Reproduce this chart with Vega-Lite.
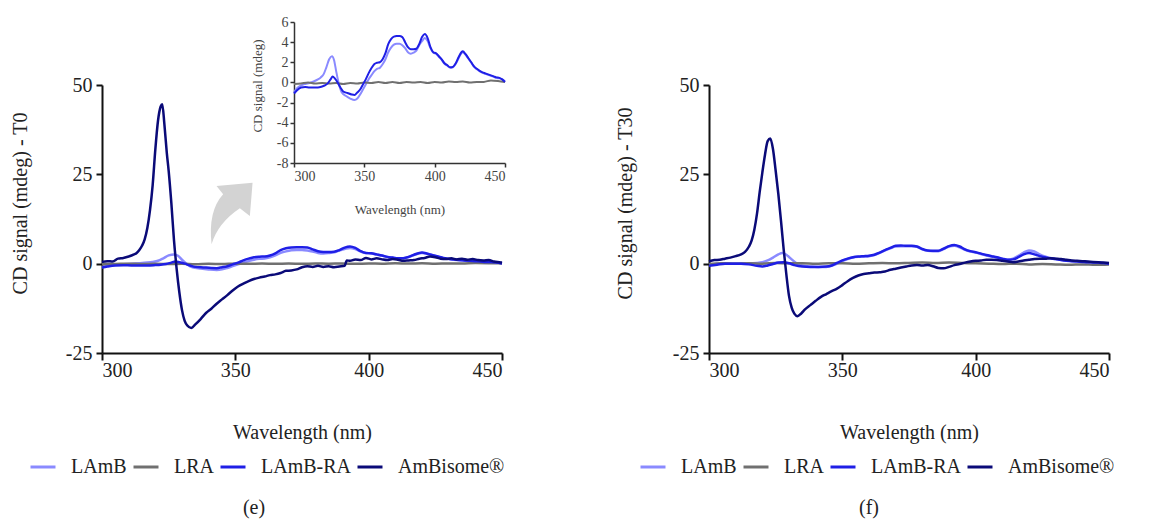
{
"$schema": "https://vega.github.io/schema/vega-lite/v6.json",
"autosize": {"type": "pad"},
"padding": {"left": 9, "top": 15, "right": 5, "bottom": 5},
"background": "white",
"config": {
  "font": "Liberation Serif, Times New Roman, serif",
  "view": {"stroke": null},
  "axis": {"grid": false, "domainColor": "#111", "tickColor": "#111", "labelColor": "#222", "titleColor": "#222", "labelFont": "Liberation Serif, Times New Roman, serif", "titleFont": "Liberation Serif, Times New Roman, serif", "titleFontWeight": "normal", "domainWidth": 2, "tickWidth": 2, "labelFontSize": 20, "titleFontSize": 20, "labelExpr": "replace(datum.label, '−', '-')"},
  "legend": {"labelFont": "Liberation Serif, Times New Roman, serif", "labelFontSize": 20, "labelColor": "#222", "symbolType": "stroke", "symbolSize": 625, "symbolStrokeWidth": 3, "labelOffset": 14, "columnPadding": 0},
  "title": {"font": "Liberation Serif, Times New Roman, serif", "fontWeight": "normal", "fontSize": 20, "color": "#222"}
},
"datasets": {
"e": [
{"series":"LAmB","nm":300,"cd":-1.0},{"series":"LAmB","nm":302,"cd":-0.6},{"series":"LAmB","nm":305,"cd":-0.3},{"series":"LAmB","nm":308,"cd":-0.15},{"series":"LAmB","nm":311,"cd":-0.05},{"series":"LAmB","nm":314,"cd":0.1},{"series":"LAmB","nm":317,"cd":0.3},{"series":"LAmB","nm":319,"cd":0.5},{"series":"LAmB","nm":321,"cd":0.8},{"series":"LAmB","nm":323,"cd":1.5},{"series":"LAmB","nm":325,"cd":2.3},{"series":"LAmB","nm":327,"cd":2.6},{"series":"LAmB","nm":328.5,"cd":2.2},{"series":"LAmB","nm":330,"cd":1.1},{"series":"LAmB","nm":332,"cd":-0.2},{"series":"LAmB","nm":334,"cd":-1.0},{"series":"LAmB","nm":337,"cd":-1.35},{"series":"LAmB","nm":340,"cd":-1.6},{"series":"LAmB","nm":343,"cd":-1.75},{"series":"LAmB","nm":345,"cd":-1.6},{"series":"LAmB","nm":347,"cd":-1.2},{"series":"LAmB","nm":349,"cd":-0.7},{"series":"LAmB","nm":351,"cd":-0.2},{"series":"LAmB","nm":353,"cd":0.3},{"series":"LAmB","nm":355,"cd":0.7},{"series":"LAmB","nm":357,"cd":1.1},{"series":"LAmB","nm":359,"cd":1.35},{"series":"LAmB","nm":361,"cd":1.45},{"series":"LAmB","nm":363,"cd":1.8},{"series":"LAmB","nm":365,"cd":2.3},{"series":"LAmB","nm":367,"cd":3.0},{"series":"LAmB","nm":369,"cd":3.45},{"series":"LAmB","nm":371,"cd":3.75},{"series":"LAmB","nm":373,"cd":3.85},{"series":"LAmB","nm":375,"cd":3.85},{"series":"LAmB","nm":377,"cd":3.7},{"series":"LAmB","nm":379,"cd":3.4},{"series":"LAmB","nm":381,"cd":3.0},{"series":"LAmB","nm":383,"cd":2.85},{"series":"LAmB","nm":385,"cd":2.95},{"series":"LAmB","nm":387,"cd":3.15},{"series":"LAmB","nm":389,"cd":3.7},{"series":"LAmB","nm":391,"cd":4.1},{"series":"LAmB","nm":393,"cd":4.4},{"series":"LAmB","nm":395,"cd":4.1},{"series":"LAmB","nm":397,"cd":3.4},{"series":"LAmB","nm":399,"cd":2.95},{"series":"LAmB","nm":401,"cd":2.85},{"series":"LAmB","nm":403,"cd":2.55},{"series":"LAmB","nm":405,"cd":2.25},{"series":"LAmB","nm":407,"cd":1.85},{"series":"LAmB","nm":409,"cd":1.65},{"series":"LAmB","nm":411,"cd":1.45},{"series":"LAmB","nm":413,"cd":1.5},{"series":"LAmB","nm":415,"cd":1.85},{"series":"LAmB","nm":417,"cd":2.4},{"series":"LAmB","nm":419,"cd":2.9},{"series":"LAmB","nm":420,"cd":3.0},{"series":"LAmB","nm":422,"cd":2.75},{"series":"LAmB","nm":424,"cd":2.35},{"series":"LAmB","nm":426,"cd":1.95},{"series":"LAmB","nm":428,"cd":1.55},{"series":"LAmB","nm":430,"cd":1.3},{"series":"LAmB","nm":432,"cd":1.1},{"series":"LAmB","nm":434,"cd":0.95},{"series":"LAmB","nm":436,"cd":0.85},{"series":"LAmB","nm":438,"cd":0.75},{"series":"LAmB","nm":440,"cd":0.65},{"series":"LAmB","nm":442,"cd":0.55},{"series":"LAmB","nm":444,"cd":0.45},{"series":"LAmB","nm":446,"cd":0.4},{"series":"LAmB","nm":448,"cd":0.3},{"series":"LAmB","nm":450,"cd":0.1},
{"series":"LRA","nm":300,"cd":-0.15},{"series":"LRA","nm":305,"cd":-0.1},{"series":"LRA","nm":310,"cd":0.0},{"series":"LRA","nm":315,"cd":-0.1},{"series":"LRA","nm":320,"cd":-0.05},{"series":"LRA","nm":325,"cd":-0.1},{"series":"LRA","nm":330,"cd":-0.05},{"series":"LRA","nm":335,"cd":-0.15},{"series":"LRA","nm":340,"cd":-0.05},{"series":"LRA","nm":345,"cd":-0.1},{"series":"LRA","nm":350,"cd":0.0},{"series":"LRA","nm":355,"cd":-0.05},{"series":"LRA","nm":360,"cd":0.05},{"series":"LRA","nm":365,"cd":-0.05},{"series":"LRA","nm":370,"cd":0.05},{"series":"LRA","nm":375,"cd":-0.05},{"series":"LRA","nm":380,"cd":0.05},{"series":"LRA","nm":385,"cd":0.0},{"series":"LRA","nm":390,"cd":0.05},{"series":"LRA","nm":395,"cd":-0.05},{"series":"LRA","nm":400,"cd":0.05},{"series":"LRA","nm":405,"cd":0.0},{"series":"LRA","nm":410,"cd":0.1},{"series":"LRA","nm":415,"cd":0.05},{"series":"LRA","nm":420,"cd":0.1},{"series":"LRA","nm":425,"cd":0.0},{"series":"LRA","nm":430,"cd":0.05},{"series":"LRA","nm":435,"cd":0.05},{"series":"LRA","nm":440,"cd":0.2},{"series":"LRA","nm":445,"cd":0.15},{"series":"LRA","nm":450,"cd":0.05},
{"series":"LAmB-RA","nm":300,"cd":-1.1},{"series":"LAmB-RA","nm":302,"cd":-0.8},{"series":"LAmB-RA","nm":305,"cd":-0.5},{"series":"LAmB-RA","nm":308,"cd":-0.45},{"series":"LAmB-RA","nm":311,"cd":-0.5},{"series":"LAmB-RA","nm":314,"cd":-0.5},{"series":"LAmB-RA","nm":317,"cd":-0.5},{"series":"LAmB-RA","nm":320,"cd":-0.4},{"series":"LAmB-RA","nm":322,"cd":-0.3},{"series":"LAmB-RA","nm":324,"cd":-0.1},{"series":"LAmB-RA","nm":326,"cd":0.3},{"series":"LAmB-RA","nm":327.5,"cd":0.6},{"series":"LAmB-RA","nm":329,"cd":0.4},{"series":"LAmB-RA","nm":331,"cd":0.0},{"series":"LAmB-RA","nm":333,"cd":-0.5},{"series":"LAmB-RA","nm":335,"cd":-0.9},{"series":"LAmB-RA","nm":338,"cd":-1.05},{"series":"LAmB-RA","nm":341,"cd":-1.2},{"series":"LAmB-RA","nm":343,"cd":-1.25},{"series":"LAmB-RA","nm":345,"cd":-1.0},{"series":"LAmB-RA","nm":347,"cd":-0.7},{"series":"LAmB-RA","nm":349,"cd":-0.2},{"series":"LAmB-RA","nm":351,"cd":0.3},{"series":"LAmB-RA","nm":353,"cd":0.9},{"series":"LAmB-RA","nm":355,"cd":1.4},{"series":"LAmB-RA","nm":357,"cd":1.8},{"series":"LAmB-RA","nm":359,"cd":1.95},{"series":"LAmB-RA","nm":361,"cd":2.0},{"series":"LAmB-RA","nm":363,"cd":2.3},{"series":"LAmB-RA","nm":365,"cd":2.9},{"series":"LAmB-RA","nm":367,"cd":3.8},{"series":"LAmB-RA","nm":369,"cd":4.3},{"series":"LAmB-RA","nm":371,"cd":4.55},{"series":"LAmB-RA","nm":373,"cd":4.6},{"series":"LAmB-RA","nm":375,"cd":4.6},{"series":"LAmB-RA","nm":377,"cd":4.5},{"series":"LAmB-RA","nm":379,"cd":4.0},{"series":"LAmB-RA","nm":381,"cd":3.5},{"series":"LAmB-RA","nm":383,"cd":3.3},{"series":"LAmB-RA","nm":385,"cd":3.3},{"series":"LAmB-RA","nm":387,"cd":3.35},{"series":"LAmB-RA","nm":389,"cd":3.8},{"series":"LAmB-RA","nm":391,"cd":4.5},{"series":"LAmB-RA","nm":393,"cd":4.8},{"series":"LAmB-RA","nm":395,"cd":4.4},{"series":"LAmB-RA","nm":397,"cd":3.5},{"series":"LAmB-RA","nm":399,"cd":3.0},{"series":"LAmB-RA","nm":401,"cd":2.9},{"series":"LAmB-RA","nm":403,"cd":2.6},{"series":"LAmB-RA","nm":405,"cd":2.3},{"series":"LAmB-RA","nm":407,"cd":1.9},{"series":"LAmB-RA","nm":409,"cd":1.7},{"series":"LAmB-RA","nm":411,"cd":1.5},{"series":"LAmB-RA","nm":413,"cd":1.55},{"series":"LAmB-RA","nm":415,"cd":1.9},{"series":"LAmB-RA","nm":417,"cd":2.5},{"series":"LAmB-RA","nm":419,"cd":3.0},{"series":"LAmB-RA","nm":420,"cd":3.1},{"series":"LAmB-RA","nm":422,"cd":2.8},{"series":"LAmB-RA","nm":424,"cd":2.4},{"series":"LAmB-RA","nm":426,"cd":2.0},{"series":"LAmB-RA","nm":428,"cd":1.6},{"series":"LAmB-RA","nm":430,"cd":1.35},{"series":"LAmB-RA","nm":432,"cd":1.15},{"series":"LAmB-RA","nm":434,"cd":1.0},{"series":"LAmB-RA","nm":436,"cd":0.9},{"series":"LAmB-RA","nm":438,"cd":0.8},{"series":"LAmB-RA","nm":440,"cd":0.7},{"series":"LAmB-RA","nm":442,"cd":0.6},{"series":"LAmB-RA","nm":444,"cd":0.5},{"series":"LAmB-RA","nm":446,"cd":0.45},{"series":"LAmB-RA","nm":448,"cd":0.3},{"series":"LAmB-RA","nm":450,"cd":0.05},
{"series":"AmBisome®","nm":300,"cd":0.5},{"series":"AmBisome®","nm":302,"cd":0.7},{"series":"AmBisome®","nm":304,"cd":0.6},{"series":"AmBisome®","nm":306,"cd":1.4},{"series":"AmBisome®","nm":308,"cd":1.6},{"series":"AmBisome®","nm":310,"cd":2.0},{"series":"AmBisome®","nm":312,"cd":2.6},{"series":"AmBisome®","nm":313,"cd":3.0},{"series":"AmBisome®","nm":314,"cd":3.8},{"series":"AmBisome®","nm":315,"cd":5.0},{"series":"AmBisome®","nm":316,"cd":6.8},{"series":"AmBisome®","nm":317,"cd":10},{"series":"AmBisome®","nm":318,"cd":15},{"series":"AmBisome®","nm":319,"cd":22},{"series":"AmBisome®","nm":320,"cd":32},{"series":"AmBisome®","nm":321,"cd":40},{"series":"AmBisome®","nm":322,"cd":44},{"series":"AmBisome®","nm":322.6,"cd":44.6},{"series":"AmBisome®","nm":323.4,"cd":39},{"series":"AmBisome®","nm":324.3,"cd":31},{"series":"AmBisome®","nm":325,"cd":26},{"series":"AmBisome®","nm":326,"cd":17},{"series":"AmBisome®","nm":327,"cd":6.5},{"series":"AmBisome®","nm":328,"cd":-1.5},{"series":"AmBisome®","nm":329,"cd":-8},{"series":"AmBisome®","nm":330,"cd":-13},{"series":"AmBisome®","nm":331,"cd":-16},{"series":"AmBisome®","nm":332,"cd":-17.3},{"series":"AmBisome®","nm":333.5,"cd":-18},{"series":"AmBisome®","nm":335,"cd":-17},{"series":"AmBisome®","nm":337,"cd":-15.5},{"series":"AmBisome®","nm":339,"cd":-13.8},{"series":"AmBisome®","nm":341,"cd":-12.6},{"series":"AmBisome®","nm":343,"cd":-11.2},{"series":"AmBisome®","nm":345,"cd":-10},{"series":"AmBisome®","nm":347,"cd":-8.8},{"series":"AmBisome®","nm":349,"cd":-7.5},{"series":"AmBisome®","nm":351,"cd":-6.4},{"series":"AmBisome®","nm":353,"cd":-5.6},{"series":"AmBisome®","nm":355,"cd":-4.9},{"series":"AmBisome®","nm":357,"cd":-4.3},{"series":"AmBisome®","nm":359,"cd":-3.9},{"series":"AmBisome®","nm":361,"cd":-3.6},{"series":"AmBisome®","nm":363,"cd":-3.2},{"series":"AmBisome®","nm":365,"cd":-3.0},{"series":"AmBisome®","nm":367,"cd":-2.6},{"series":"AmBisome®","nm":369,"cd":-2.0},{"series":"AmBisome®","nm":371,"cd":-1.9},{"series":"AmBisome®","nm":373,"cd":-1.6},{"series":"AmBisome®","nm":375,"cd":-1.0},{"series":"AmBisome®","nm":377,"cd":-0.7},{"series":"AmBisome®","nm":379,"cd":-0.9},{"series":"AmBisome®","nm":381,"cd":-0.6},{"series":"AmBisome®","nm":383,"cd":-0.9},{"series":"AmBisome®","nm":385,"cd":-0.7},{"series":"AmBisome®","nm":387,"cd":-1.0},{"series":"AmBisome®","nm":389,"cd":-0.8},{"series":"AmBisome®","nm":391,"cd":-0.6},{"series":"AmBisome®","nm":391.8,"cd":0.9},{"series":"AmBisome®","nm":393,"cd":0.8},{"series":"AmBisome®","nm":395,"cd":1.2},{"series":"AmBisome®","nm":397,"cd":1.0},{"series":"AmBisome®","nm":399,"cd":1.6},{"series":"AmBisome®","nm":401,"cd":1.2},{"series":"AmBisome®","nm":403,"cd":1.5},{"series":"AmBisome®","nm":405,"cd":1.2},{"series":"AmBisome®","nm":407,"cd":1.0},{"series":"AmBisome®","nm":409,"cd":1.3},{"series":"AmBisome®","nm":411,"cd":1.1},{"series":"AmBisome®","nm":413,"cd":0.8},{"series":"AmBisome®","nm":415,"cd":0.9},{"series":"AmBisome®","nm":417,"cd":1.0},{"series":"AmBisome®","nm":419,"cd":1.4},{"series":"AmBisome®","nm":421,"cd":1.6},{"series":"AmBisome®","nm":423,"cd":2.0},{"series":"AmBisome®","nm":425,"cd":1.8},{"series":"AmBisome®","nm":427,"cd":1.4},{"series":"AmBisome®","nm":429,"cd":1.3},{"series":"AmBisome®","nm":431,"cd":1.5},{"series":"AmBisome®","nm":433,"cd":1.2},{"series":"AmBisome®","nm":435,"cd":1.4},{"series":"AmBisome®","nm":437,"cd":1.1},{"series":"AmBisome®","nm":439,"cd":1.3},{"series":"AmBisome®","nm":441,"cd":1.0},{"series":"AmBisome®","nm":443,"cd":0.9},{"series":"AmBisome®","nm":445,"cd":1.0},{"series":"AmBisome®","nm":447,"cd":0.6},{"series":"AmBisome®","nm":449,"cd":0.4},{"series":"AmBisome®","nm":450,"cd":0.3}
],
"f": [
{"series":"LAmB","nm":300,"cd":-0.3},{"series":"LAmB","nm":303,"cd":0.0},{"series":"LAmB","nm":306,"cd":0.1},{"series":"LAmB","nm":309,"cd":0.1},{"series":"LAmB","nm":312,"cd":0.1},{"series":"LAmB","nm":315,"cd":0.1},{"series":"LAmB","nm":318,"cd":0.2},{"series":"LAmB","nm":320,"cd":0.4},{"series":"LAmB","nm":322,"cd":0.9},{"series":"LAmB","nm":324,"cd":1.7},{"series":"LAmB","nm":326,"cd":2.6},{"series":"LAmB","nm":327.5,"cd":3.0},{"series":"LAmB","nm":329,"cd":2.5},{"series":"LAmB","nm":331,"cd":1.2},{"series":"LAmB","nm":333,"cd":0.0},{"series":"LAmB","nm":335,"cd":-0.5},{"series":"LAmB","nm":338,"cd":-0.8},{"series":"LAmB","nm":341,"cd":-0.9},{"series":"LAmB","nm":344,"cd":-0.9},{"series":"LAmB","nm":346,"cd":-0.6},{"series":"LAmB","nm":348,"cd":0.0},{"series":"LAmB","nm":350,"cd":0.7},{"series":"LAmB","nm":352,"cd":1.3},{"series":"LAmB","nm":354,"cd":1.7},{"series":"LAmB","nm":356,"cd":1.9},{"series":"LAmB","nm":358,"cd":2.0},{"series":"LAmB","nm":360,"cd":2.1},{"series":"LAmB","nm":362,"cd":2.4},{"series":"LAmB","nm":364,"cd":3.0},{"series":"LAmB","nm":366,"cd":3.7},{"series":"LAmB","nm":368,"cd":4.3},{"series":"LAmB","nm":370,"cd":4.8},{"series":"LAmB","nm":372,"cd":4.9},{"series":"LAmB","nm":374,"cd":4.9},{"series":"LAmB","nm":376,"cd":4.9},{"series":"LAmB","nm":378,"cd":4.7},{"series":"LAmB","nm":380,"cd":4.0},{"series":"LAmB","nm":382,"cd":3.6},{"series":"LAmB","nm":384,"cd":3.5},{"series":"LAmB","nm":386,"cd":3.5},{"series":"LAmB","nm":388,"cd":4.1},{"series":"LAmB","nm":390,"cd":4.8},{"series":"LAmB","nm":392,"cd":5.0},{"series":"LAmB","nm":394,"cd":4.6},{"series":"LAmB","nm":396,"cd":3.9},{"series":"LAmB","nm":398,"cd":3.4},{"series":"LAmB","nm":400,"cd":3.1},{"series":"LAmB","nm":402,"cd":2.7},{"series":"LAmB","nm":404,"cd":2.3},{"series":"LAmB","nm":406,"cd":2.0},{"series":"LAmB","nm":408,"cd":1.7},{"series":"LAmB","nm":410,"cd":1.3},{"series":"LAmB","nm":412,"cd":1.1},{"series":"LAmB","nm":414,"cd":1.4},{"series":"LAmB","nm":416,"cd":2.2},{"series":"LAmB","nm":418,"cd":3.1},{"series":"LAmB","nm":420,"cd":3.7},{"series":"LAmB","nm":422,"cd":3.4},{"series":"LAmB","nm":424,"cd":2.6},{"series":"LAmB","nm":426,"cd":2.0},{"series":"LAmB","nm":428,"cd":1.6},{"series":"LAmB","nm":430,"cd":1.3},{"series":"LAmB","nm":432,"cd":1.1},{"series":"LAmB","nm":434,"cd":0.9},{"series":"LAmB","nm":436,"cd":0.75},{"series":"LAmB","nm":438,"cd":0.65},{"series":"LAmB","nm":440,"cd":0.55},{"series":"LAmB","nm":442,"cd":0.45},{"series":"LAmB","nm":444,"cd":0.35},{"series":"LAmB","nm":446,"cd":0.3},{"series":"LAmB","nm":448,"cd":0.15},{"series":"LAmB","nm":450,"cd":0.0},
{"series":"LRA","nm":300,"cd":-0.1},{"series":"LRA","nm":305,"cd":0.1},{"series":"LRA","nm":310,"cd":0.0},{"series":"LRA","nm":315,"cd":0.1},{"series":"LRA","nm":320,"cd":0.0},{"series":"LRA","nm":325,"cd":0.2},{"series":"LRA","nm":330,"cd":0.1},{"series":"LRA","nm":335,"cd":0.1},{"series":"LRA","nm":340,"cd":0.0},{"series":"LRA","nm":345,"cd":0.1},{"series":"LRA","nm":350,"cd":0.1},{"series":"LRA","nm":355,"cd":0.0},{"series":"LRA","nm":360,"cd":0.1},{"series":"LRA","nm":365,"cd":0.2},{"series":"LRA","nm":370,"cd":0.1},{"series":"LRA","nm":375,"cd":0.2},{"series":"LRA","nm":380,"cd":0.3},{"series":"LRA","nm":385,"cd":0.2},{"series":"LRA","nm":390,"cd":0.3},{"series":"LRA","nm":395,"cd":0.2},{"series":"LRA","nm":400,"cd":0.1},{"series":"LRA","nm":405,"cd":0.0},{"series":"LRA","nm":410,"cd":-0.1},{"series":"LRA","nm":415,"cd":0.0},{"series":"LRA","nm":420,"cd":-0.2},{"series":"LRA","nm":425,"cd":-0.1},{"series":"LRA","nm":430,"cd":-0.2},{"series":"LRA","nm":435,"cd":-0.3},{"series":"LRA","nm":440,"cd":-0.2},{"series":"LRA","nm":445,"cd":-0.3},{"series":"LRA","nm":450,"cd":-0.2},
{"series":"LAmB-RA","nm":300,"cd":-0.6},{"series":"LAmB-RA","nm":303,"cd":-0.3},{"series":"LAmB-RA","nm":306,"cd":0.0},{"series":"LAmB-RA","nm":309,"cd":0.0},{"series":"LAmB-RA","nm":312,"cd":0.0},{"series":"LAmB-RA","nm":315,"cd":-0.2},{"series":"LAmB-RA","nm":318,"cd":-0.6},{"series":"LAmB-RA","nm":320,"cd":-0.8},{"series":"LAmB-RA","nm":322,"cd":-0.5},{"series":"LAmB-RA","nm":324,"cd":-0.1},{"series":"LAmB-RA","nm":326,"cd":0.3},{"series":"LAmB-RA","nm":328,"cd":0.4},{"series":"LAmB-RA","nm":330,"cd":0.1},{"series":"LAmB-RA","nm":332,"cd":-0.4},{"series":"LAmB-RA","nm":335,"cd":-0.8},{"series":"LAmB-RA","nm":338,"cd":-0.9},{"series":"LAmB-RA","nm":341,"cd":-0.9},{"series":"LAmB-RA","nm":344,"cd":-0.8},{"series":"LAmB-RA","nm":346,"cd":-0.5},{"series":"LAmB-RA","nm":348,"cd":0.2},{"series":"LAmB-RA","nm":350,"cd":0.9},{"series":"LAmB-RA","nm":352,"cd":1.4},{"series":"LAmB-RA","nm":354,"cd":1.8},{"series":"LAmB-RA","nm":356,"cd":2.0},{"series":"LAmB-RA","nm":358,"cd":2.1},{"series":"LAmB-RA","nm":360,"cd":2.2},{"series":"LAmB-RA","nm":362,"cd":2.5},{"series":"LAmB-RA","nm":364,"cd":3.1},{"series":"LAmB-RA","nm":366,"cd":3.8},{"series":"LAmB-RA","nm":368,"cd":4.4},{"series":"LAmB-RA","nm":370,"cd":5.0},{"series":"LAmB-RA","nm":372,"cd":5.1},{"series":"LAmB-RA","nm":374,"cd":5.0},{"series":"LAmB-RA","nm":376,"cd":5.0},{"series":"LAmB-RA","nm":378,"cd":4.8},{"series":"LAmB-RA","nm":380,"cd":4.1},{"series":"LAmB-RA","nm":382,"cd":3.7},{"series":"LAmB-RA","nm":384,"cd":3.6},{"series":"LAmB-RA","nm":386,"cd":3.6},{"series":"LAmB-RA","nm":388,"cd":4.2},{"series":"LAmB-RA","nm":390,"cd":4.9},{"series":"LAmB-RA","nm":392,"cd":5.2},{"series":"LAmB-RA","nm":394,"cd":4.8},{"series":"LAmB-RA","nm":396,"cd":4.0},{"series":"LAmB-RA","nm":398,"cd":3.5},{"series":"LAmB-RA","nm":400,"cd":3.2},{"series":"LAmB-RA","nm":402,"cd":2.8},{"series":"LAmB-RA","nm":404,"cd":2.4},{"series":"LAmB-RA","nm":406,"cd":2.1},{"series":"LAmB-RA","nm":408,"cd":1.8},{"series":"LAmB-RA","nm":410,"cd":1.4},{"series":"LAmB-RA","nm":412,"cd":1.1},{"series":"LAmB-RA","nm":414,"cd":1.2},{"series":"LAmB-RA","nm":416,"cd":1.8},{"series":"LAmB-RA","nm":418,"cd":2.6},{"series":"LAmB-RA","nm":420,"cd":3.0},{"series":"LAmB-RA","nm":422,"cd":2.6},{"series":"LAmB-RA","nm":424,"cd":2.1},{"series":"LAmB-RA","nm":426,"cd":1.8},{"series":"LAmB-RA","nm":428,"cd":1.5},{"series":"LAmB-RA","nm":430,"cd":1.3},{"series":"LAmB-RA","nm":432,"cd":1.0},{"series":"LAmB-RA","nm":434,"cd":0.8},{"series":"LAmB-RA","nm":436,"cd":0.7},{"series":"LAmB-RA","nm":438,"cd":0.6},{"series":"LAmB-RA","nm":440,"cd":0.5},{"series":"LAmB-RA","nm":442,"cd":0.4},{"series":"LAmB-RA","nm":444,"cd":0.35},{"series":"LAmB-RA","nm":446,"cd":0.3},{"series":"LAmB-RA","nm":448,"cd":0.15},{"series":"LAmB-RA","nm":450,"cd":0.0},
{"series":"AmBisome®","nm":300,"cd":0.7},{"series":"AmBisome®","nm":302,"cd":1.0},{"series":"AmBisome®","nm":304,"cd":1.1},{"series":"AmBisome®","nm":306,"cd":1.4},{"series":"AmBisome®","nm":308,"cd":1.7},{"series":"AmBisome®","nm":310,"cd":2.1},{"series":"AmBisome®","nm":312,"cd":2.6},{"series":"AmBisome®","nm":313.5,"cd":3.3},{"series":"AmBisome®","nm":315,"cd":4.8},{"series":"AmBisome®","nm":316,"cd":6.5},{"series":"AmBisome®","nm":317,"cd":9.5},{"series":"AmBisome®","nm":318,"cd":14},{"series":"AmBisome®","nm":319,"cd":20},{"series":"AmBisome®","nm":320,"cd":25.5},{"series":"AmBisome®","nm":321,"cd":30.5},{"series":"AmBisome®","nm":322,"cd":34.3},{"series":"AmBisome®","nm":323,"cd":35},{"series":"AmBisome®","nm":324,"cd":32},{"series":"AmBisome®","nm":325,"cd":26},{"series":"AmBisome®","nm":326,"cd":19.5},{"series":"AmBisome®","nm":327,"cd":12},{"series":"AmBisome®","nm":328,"cd":4},{"series":"AmBisome®","nm":329,"cd":-3},{"series":"AmBisome®","nm":330,"cd":-9},{"series":"AmBisome®","nm":331,"cd":-12.3},{"series":"AmBisome®","nm":332,"cd":-14},{"series":"AmBisome®","nm":333.2,"cd":-14.7},{"series":"AmBisome®","nm":334.5,"cd":-14},{"series":"AmBisome®","nm":336,"cd":-12.8},{"series":"AmBisome®","nm":338,"cd":-11.6},{"series":"AmBisome®","nm":340,"cd":-10.4},{"series":"AmBisome®","nm":342,"cd":-9.3},{"series":"AmBisome®","nm":344,"cd":-8.5},{"series":"AmBisome®","nm":346,"cd":-7.7},{"series":"AmBisome®","nm":348,"cd":-7.0},{"series":"AmBisome®","nm":350,"cd":-6.0},{"series":"AmBisome®","nm":352,"cd":-4.9},{"series":"AmBisome®","nm":354,"cd":-4.0},{"series":"AmBisome®","nm":356,"cd":-3.3},{"series":"AmBisome®","nm":358,"cd":-2.9},{"series":"AmBisome®","nm":360,"cd":-2.7},{"series":"AmBisome®","nm":362,"cd":-2.5},{"series":"AmBisome®","nm":364,"cd":-2.4},{"series":"AmBisome®","nm":366,"cd":-2.2},{"series":"AmBisome®","nm":368,"cd":-1.7},{"series":"AmBisome®","nm":370,"cd":-1.4},{"series":"AmBisome®","nm":372,"cd":-1.1},{"series":"AmBisome®","nm":374,"cd":-0.8},{"series":"AmBisome®","nm":376,"cd":-0.5},{"series":"AmBisome®","nm":378,"cd":-0.4},{"series":"AmBisome®","nm":380,"cd":-0.5},{"series":"AmBisome®","nm":382,"cd":-0.4},{"series":"AmBisome®","nm":384,"cd":-0.7},{"series":"AmBisome®","nm":386,"cd":-1.2},{"series":"AmBisome®","nm":388,"cd":-1.3},{"series":"AmBisome®","nm":390,"cd":-0.9},{"series":"AmBisome®","nm":392,"cd":-0.4},{"series":"AmBisome®","nm":394,"cd":-0.1},{"series":"AmBisome®","nm":396,"cd":0.3},{"series":"AmBisome®","nm":398,"cd":0.6},{"series":"AmBisome®","nm":400,"cd":0.8},{"series":"AmBisome®","nm":402,"cd":0.9},{"series":"AmBisome®","nm":404,"cd":1.1},{"series":"AmBisome®","nm":406,"cd":1.1},{"series":"AmBisome®","nm":408,"cd":1.0},{"series":"AmBisome®","nm":410,"cd":0.8},{"series":"AmBisome®","nm":412,"cd":0.6},{"series":"AmBisome®","nm":414,"cd":0.4},{"series":"AmBisome®","nm":416,"cd":0.6},{"series":"AmBisome®","nm":418,"cd":0.9},{"series":"AmBisome®","nm":420,"cd":1.1},{"series":"AmBisome®","nm":422,"cd":1.3},{"series":"AmBisome®","nm":424,"cd":1.4},{"series":"AmBisome®","nm":426,"cd":1.4},{"series":"AmBisome®","nm":428,"cd":1.5},{"series":"AmBisome®","nm":430,"cd":1.4},{"series":"AmBisome®","nm":432,"cd":1.3},{"series":"AmBisome®","nm":434,"cd":1.1},{"series":"AmBisome®","nm":436,"cd":0.9},{"series":"AmBisome®","nm":438,"cd":0.8},{"series":"AmBisome®","nm":440,"cd":0.7},{"series":"AmBisome®","nm":442,"cd":0.6},{"series":"AmBisome®","nm":444,"cd":0.5},{"series":"AmBisome®","nm":446,"cd":0.4},{"series":"AmBisome®","nm":448,"cd":0.3},{"series":"AmBisome®","nm":450,"cd":0.2}
],
"arrow": [{"nm": 348.7, "cd": 14.2}]
},
"hconcat": [
{
  "width": 400, "height": 268,
  "title": {"text": "(e)", "orient": "bottom", "frame": "group", "anchor": "middle", "dx": -48, "offset": 21},
  "layer": [
    {
      "layer": [
        {
          "data": {"name": "e"},
          "mark": {"type": "line", "strokeWidth": 2.5, "interpolate": "monotone"},
          "encoding": {
            "x": {"field": "nm", "type": "quantitative", "scale": {"domain": [300, 450], "nice": false, "zero": false}, "axis": {"values": [300, 350, 400, 450], "title": "Wavelength (nm)", "tickSize": 7, "labelPadding": 0, "titlePadding": 42}},
            "y": {"field": "cd", "type": "quantitative", "scale": {"domain": [-25, 50], "nice": false, "zero": false}, "axis": {"values": [-25, 0, 25, 50], "title": "CD signal (mdeg) - T0", "tickSize": 6, "labelPadding": 4, "titleX": -72, "titleY": 118}},
            "color": {"field": "series", "type": "nominal", "scale": {"domain": ["LAmB", "LRA", "LAmB-RA", "AmBisome®"], "range": ["#8a8aff", "#707070", "#1f1fe6", "#0a0a78"]}, "legend": {"title": null, "orient": "none", "direction": "horizontal", "legendX": -73, "legendY": 368}}
          }
        },
        {
          "data": {"name": "arrow"},
          "mark": {"type": "point", "shape": "M 0.627 -0.918 L -0.464 -0.818 L -0.264 -0.566 Q -0.727 -0.06 -0.615 0.948 Q -0.424 0.303 0.242 -0.142 L 0.545 0.091 Z", "filled": true, "fill": "#d3d3d3", "opacity": 1, "strokeWidth": 0, "size": 4356},
          "encoding": {
            "x": {"field": "nm", "type": "quantitative"},
            "y": {"field": "cd", "type": "quantitative"}
          }
        }
      ]
    },
    {
      "data": {"name": "e"},
      "transform": [{"filter": "datum.series != 'AmBisome®'"}],
      "mark": {"type": "line", "strokeWidth": 2, "interpolate": "monotone"},
      "encoding": {
        "x": {"field": "nm", "type": "quantitative", "scale": {"domain": [300, 450], "range": [192, 403], "nice": false, "zero": false}, "axis": {"orient": "bottom", "offset": -190, "values": [300, 350, 400, 450], "title": "Wavelength (nm)", "labelFontSize": 14, "titleFontSize": 13, "tickSize": 4, "domainWidth": 1.5, "tickWidth": 1.5, "domainColor": "#333", "tickColor": "#333", "labelColor": "#444", "titleColor": "#444", "labelPadding": 2, "titleY": 40}},
        "y": {"field": "cd", "type": "quantitative", "scale": {"domain": [-8, 6], "range": [78, -63], "nice": false, "zero": false}, "axis": {"orient": "left", "offset": -192, "values": [-8, -6, -4, -2, 0, 2, 4, 6], "title": "CD signal (mdeg)", "labelFontSize": 14, "titleFontSize": 13, "tickSize": 4, "domainWidth": 1.5, "tickWidth": 1.5, "domainColor": "#333", "tickColor": "#333", "labelColor": "#444", "titleColor": "#444", "labelPadding": 2, "titleX": -30, "titleY": 0.5}},
        "color": {"field": "series", "type": "nominal", "scale": {"domain": ["LAmB", "LRA", "LAmB-RA", "AmBisome®"], "range": ["#8a8aff", "#707070", "#1f1fe6", "#0a0a78"]}}
      }
    }
  ],
  "resolve": {"scale": {"x": "independent", "y": "independent"}, "axis": {"x": "independent", "y": "independent"}}
},
{
  "width": 400, "height": 268,
  "title": {"text": "(f)", "orient": "bottom", "frame": "group", "anchor": "middle", "dx": -40, "offset": 21},
  "data": {"name": "f"},
  "mark": {"type": "line", "strokeWidth": 2.5, "interpolate": "monotone"},
  "encoding": {
    "x": {"field": "nm", "type": "quantitative", "scale": {"domain": [300, 450], "nice": false, "zero": false}, "axis": {"values": [300, 350, 400, 450], "title": "Wavelength (nm)", "tickSize": 7, "labelPadding": 0, "titlePadding": 42}},
    "y": {"field": "cd", "type": "quantitative", "scale": {"domain": [-25, 50], "nice": false, "zero": false}, "axis": {"values": [-25, 0, 25, 50], "title": "CD signal (mdeg) - T30", "tickSize": 6, "labelPadding": 4, "titleX": -74, "titleY": 118}},
    "color": {"field": "series", "type": "nominal", "scale": {"domain": ["LAmB", "LRA", "LAmB-RA", "AmBisome®"], "range": ["#8a8aff", "#707070", "#1f1fe6", "#0a0a78"]}, "legend": {"title": null, "orient": "none", "direction": "horizontal", "legendX": -70, "legendY": 368}}
  }
}
],
"spacing": 207,
"bounds": "flush",
"resolve": {"legend": {"color": "independent"}}
}
